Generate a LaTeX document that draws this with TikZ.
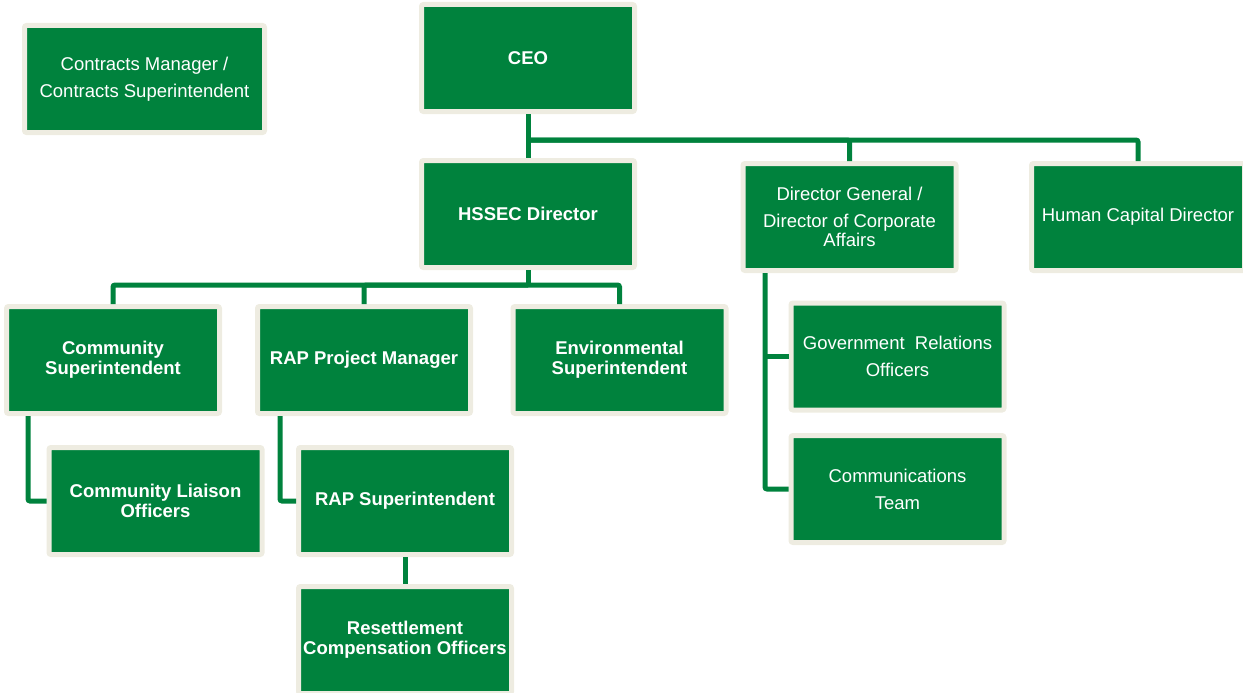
\documentclass[tikz,border=0pt]{standalone}
\usepackage{fontspec}
\setmainfont{Liberation Sans}
\definecolor{orggreen}{RGB}{0,130,61}
\definecolor{orgbeige}{RGB}{238,236,225}
\tikzset{
  box/.style={fill=orggreen, draw=orgbeige, line width=5pt, rounded corners=2pt,
    minimum width=213pt, minimum height=107pt, inner sep=0pt, align=center,
    text=white},
  reg/.style={box, font=\fontsize{18.5}{27}\selectfont},
  bld/.style={box, font=\fontsize{18.5}{20}\selectfont\bfseries},
  conn/.style={draw=orggreen, line width=5pt, rounded corners=2pt}
}
\begin{document}
\begin{tikzpicture}[x=1pt,y=-1pt]
\useasboundingbox (0,0) rectangle (1243,693);
% nodes
\node[reg, minimum width=240pt] (contracts) at (144.5,79) {Contracts Manager /\\Contracts Superintendent};
\node[bld] (ceo) at (528,58) {CEO};
\node[bld] (hssec) at (528,214) {HSSEC Director};
\node[reg, font=\fontsize{18.5}{19.5}\selectfont] (dg) at (849.5,217) {Director General /\\[7.5pt]Director of Corporate\\Affairs};
\node[reg] (hc) at (1138,217) {Human Capital Director};
\node[bld] (comsup) at (113,360) {Community\\Superintendent};
\node[bld] (rappm) at (364,360) {RAP Project Manager};
\node[bld] (env) at (619.5,360) {Environmental\\Superintendent};
\node[bld] (liaison) at (155.5,501) {Community Liaison\\Officers};
\node[bld] (rapsup) at (405,501) {RAP Superintendent};
\node[bld] (resettle) at (405,640) {Resettlement\\Compensation\ Officers};
\node[reg] (govrel) at (897.5,356.5) {Government\ \ Relations\\Officers};
\node[reg] (comms) at (897.5,489) {Communications\\Team};
% bus coordinates
\coordinate (bus1) at (528,140);
\coordinate (bus2) at (528,285);
\coordinate (cx) at (28,0);
\coordinate (rx) at (280,0);
\coordinate (dx) at (765,0);
% connectors
\draw[conn] (ceo.south) -- (hssec.north);
\draw[conn] (bus1) -| (dg.north);
\draw[conn] (bus1) -| (hc.north);
\draw[conn] (hssec.south) -- (bus2);
\draw[conn] (bus2) -| (comsup.north);
\draw[conn] (bus2) -| (rappm.north);
\draw[conn] (bus2) -| (env.north);
\draw[conn] (cx |- comsup.south) |- (liaison.west);
\draw[conn] (rx |- rappm.south) |- (rapsup.west);
\draw[conn] (rapsup.south) -- (resettle.north);
\draw[conn] (dx |- dg.south) |- (comms.west);
\draw[conn] (dx |- govrel.west) -- (govrel.west);
\end{tikzpicture}
\end{document}
